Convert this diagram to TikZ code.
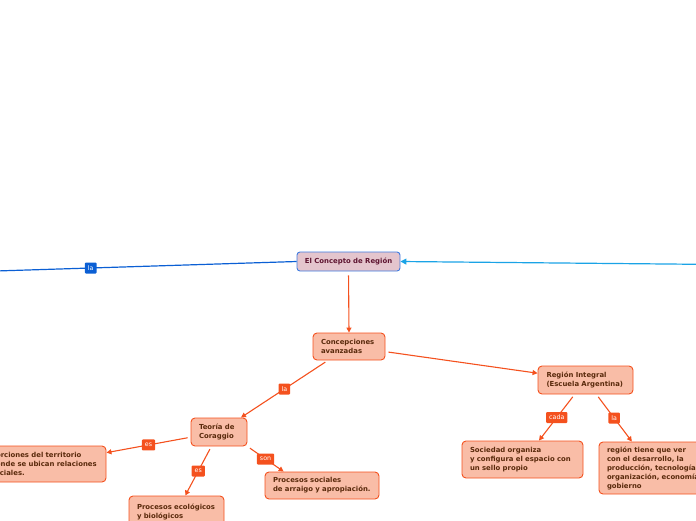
\documentclass[tikz,border=0pt]{standalone}
\usepackage{fontspec}
\setmainfont{DejaVu Sans}
\usetikzlibrary{arrows.meta}
\definecolor{borange}{HTML}{F4511E}
\definecolor{forange}{HTML}{F9BDA7}
\definecolor{torange}{HTML}{5A2A0C}
\definecolor{eorange}{HTML}{F4511E}
\definecolor{froot}{HTML}{E4C5CD}
\definecolor{broot}{HTML}{3F7BE0}
\definecolor{troot}{HTML}{5E1430}
\definecolor{bleft}{HTML}{0B5FD4}
\definecolor{bright}{HTML}{1AA3E6}
\tikzset{
  box/.style={draw=borange, fill=forange, rounded corners=4pt, line width=0.9pt,
    font=\bfseries\fontsize{6.9}{9}\selectfont, text=torange, align=left,
    inner xsep=8pt, inner ysep=2pt},
  rootbox/.style={draw=broot, fill=froot, rounded corners=3pt, line width=0.9pt,
    font=\bfseries\fontsize{6.9}{9}\selectfont, text=troot, align=center,
    inner xsep=4pt, inner ysep=2pt, minimum width=103pt, minimum height=19pt},
  oedge/.style={draw=eorange, line width=1.1pt, -{Triangle[length=5pt,width=5pt]}, shorten <=3pt},
  lab/.style={fill=eorange, text=white, font=\fontsize{6.3}{7}\selectfont,
    inner xsep=3pt, inner ysep=2pt, rounded corners=1pt, minimum height=11pt},
  blab/.style={lab, fill=bleft},
}
\begin{document}
\begin{tikzpicture}[x=1pt,y=-1pt]
\useasboundingbox (0,0) rectangle (696,520);
\clip (0,0) rectangle (696,520);

\node[rootbox] (root) at (348.5,261.5) {El Concepto de Región};
\node[box, text width=56pt, minimum height=27pt] (conc) at (349,346.5) {Concepciones\\avanzadas};
\node[box, text width=78pt, minimum height=28pt, inner xsep=8.5pt] (ri) at (585.5,380) {Región Integral\\(Escuela Argentina)};
\node[box, text width=40pt, minimum height=28pt] (teoria) at (219,432) {Teoría de\\Coraggio};
\node[box, text width=107pt, minimum height=36pt] (left) at (44.5,464) {Porciones del territorio\\donde se ubican relaciones\\sociales.};
\node[box, text width=79pt, minimum height=32pt] (eco) at (176.5,512) {Procesos ecológicos\\y biológicos};
\node[box, text width=98pt, minimum height=27pt] (soc) at (322,485.5) {Procesos sociales\\de arraigo y apropiación.};
\node[box, text width=105pt, minimum height=37pt] (socied) at (522.5,459.5) {Sociedad organiza\\y configura el espacio con\\un sello propio};
\node[box, text width=120pt, minimum height=52pt] (rt) at (667,468) {región tiene que ver\\con el desarrollo, la\\producción, tecnología,\\organización, economía y\\gobierno};

\coordinate (lend) at (-20,271.5);
\coordinate (rend) at (720,264.5);

\draw[bleft, line width=1.2pt] (root.west) -- (lend) node[blab, pos=0.65] {la};
\draw[bright, line width=1.2pt, -{Triangle[length=6pt,width=6pt]}] (rend) -- (root.east);

\draw[oedge, shorten <=4pt] (root.south) -- (conc.north);
\draw[oedge] (conc) -- (ri);
\draw[oedge] (conc) -- (teoria) node[lab, pos=0.5] {la};
\draw[oedge] (teoria) -- (left) node[lab, pos=0.5] {es};
\draw[oedge] (teoria) -- (eco) node[lab, pos=0.5] {es};
\draw[oedge] (teoria.south east) -- (soc.160) node[lab, pos=0.5] {son};
\draw[oedge] (ri.-127) -- (socied.49) node[lab, pos=0.5] {cada};
\draw[oedge] (ri.-53) -- (rt.143) node[lab, pos=0.5] {la};
\end{tikzpicture}
\end{document}
